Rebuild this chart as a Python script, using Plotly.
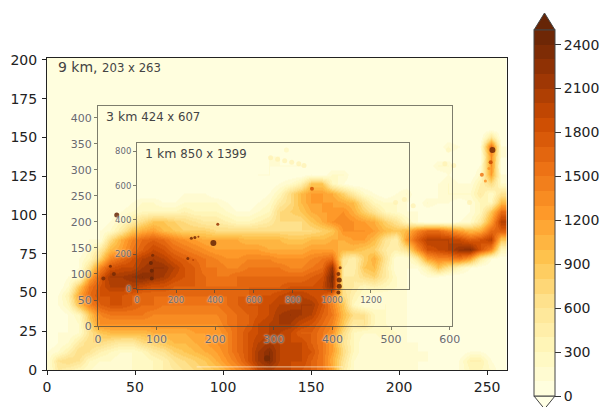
import plotly.graph_objects as go
from plotly.colors import sample_colorscale, get_colorscale

W, H = 604, 407
grid_x = list(range(0, 264, 6))
grid_y = list(range(0, 210, 6))
# terrain height on the 9 km map, in hundreds of metres (rows run upward from y=0)
terrain_hm = [
 [1,5,4,3,2,1,1,1,2,2, 3,4,5,6,7,8,9,11,13,15, 19,20,19,19,18,17,15,12,5,2, 1,1,1,1,1,1,0,0,0,1, 3,3,2,0],
 [1,6,7,6,3,2,2,1,2,2, 3,4,6,7,8,9,11,13,15,18, 21,23,20,19,19,17,15,11,6,2, 1,1,1,1,1,1,1,0,0,1, 4,4,1,0],
 [1,2,4,7,6,4,3,2,2,3, 5,6,8,9,10,11,12,14,16,18, 21,23,20,19,19,18,15,12,7,3, 1,1,1,1,1,1,1,0,0,0, 1,1,0,0],
 [0,1,2,5,7,7,6,5,5,7, 8,9,10,10,11,12,13,14,16,18, 20,21,20,19,19,17,15,12,6,3, 1,1,2,2,1,1,0,0,0,0, 0,0,0,0],
 [0,1,1,2,6,9,10,10,10,10, 11,11,11,11,12,12,12,14,16,18, 19,20,20,19,17,17,15,13,7,3, 2,2,3,2,1,0,0,0,0,0, 0,0,0,0],
 [0,0,1,2,8,13,13,13,13,13, 13,13,13,13,13,13,13,15,16,17, 19,20,21,21,19,18,16,14,9,5, 6,3,2,1,1,0,0,0,0,0, 0,0,0,0],
 [0,0,1,3,9,14,15,15,15,15, 14,14,14,14,14,14,14,15,16,17, 18,19,21,22,21,20,17,15,10,7, 6,3,2,1,1,0,0,0,0,0, 0,0,0,0],
 [0,1,3,10,14,17,18,18,17,16, 16,15,15,15,15,15,15,16,17,18, 18,19,20,20,21,21,18,14,9,3, 1,1,2,1,1,0,0,0,0,0, 0,0,0,0],
 [0,1,4,12,16,18,18,18,17,16, 16,16,16,16,16,16,16,16,17,17, 18,18,19,20,20,19,18,15,7,4, 2,1,1,1,1,0,0,0,0,0, 0,0,0,0],
 [0,0,2,9,15,18,20,20,20,19, 18,18,17,17,17,16,16,16,16,17, 17,17,17,18,18,18,19,23,6,5, 3,4,3,2,1,0,0,0,0,0, 0,0,0,0],
 [0,0,1,2,11,17,21,21,22,23, 22,21,19,18,17,16,15,15,16,16, 16,16,16,16,16,17,18,24,5,5, 7,8,5,2,1,0,1,1,0,0, 0,0,0,0],
 [0,0,0,1,6,14,18,19,19,21, 22,22,20,18,17,15,15,14,14,15, 15,15,15,14,14,15,16,22,5,4, 9,10,5,1,1,1,4,9,6,3, 1,0,0,0],
 [0,0,0,1,3,8,14,16,18,20, 21,20,18,17,16,15,14,13,13,14, 14,14,13,13,13,14,15,16,6,4, 8,11,6,1,1,5,12,14,14,15, 12,5,1,0],
 [0,0,0,0,2,5,10,12,15,17, 19,18,16,15,14,13,12,12,12,12, 12,11,11,11,11,12,12,12,10,10, 9,8,5,4,6,13,18,19,20,22, 23,18,14,3],
 [0,0,0,0,1,1,7,11,14,16, 17,16,14,13,12,11,11,11,11,10, 10,10,10,9,9,10,10,11,11,12, 12,10,6,4,12,17,20,20,20,19, 17,18,20,9],
 [0,0,0,0,0,1,2,5,9,11, 12,10,9,8,8,8,7,7,7,7, 7,7,7,7,7,7,8,9,13,13, 13,12,10,9,10,14,16,16,14,12, 10,11,16,17],
 [0,0,0,0,0,0,1,3,5,7, 9,9,8,7,6,5,5,4,3,3, 4,5,7,7,7,9,11,13,14,13, 12,11,8,6,3,1,0,0,0,1, 2,5,12,20],
 [0,0,0,0,0,0,0,1,2,3, 3,3,3,4,3,3,3,2,1,1, 2,3,7,8,9,11,12,12,13,11, 8,6,3,2,1,1,0,0,0,0, 1,3,9,16],
 [0,0,0,0,0,0,0,0,1,2, 2,1,1,2,2,2,2,1,0,0, 1,2,5,7,10,12,12,12,11,10, 6,3,2,2,1,0,2,1,1,0, 1,3,3,10],
 [0,0,0,0,0,0,0,0,0,0, 0,0,0,1,1,1,0,0,0,0, 0,1,3,7,10,12,12,11,8,5, 2,1,0,1,2,0,0,1,2,2, 2,5,2,6],
 [0,0,0,0,0,0,0,0,0,0, 0,0,0,0,0,0,0,0,0,0, 0,0,1,2,4,9,9,3,1,0, 0,0,0,0,0,0,0,1,2,1, 1,4,7,2],
 [0,0,0,0,0,0,0,0,0,0, 0,0,0,0,0,0,0,0,0,0, 1,1,0,0,0,1,0,2,2,0, 0,0,0,0,0,0,0,0,1,0, 0,2,12,1],
 [0,0,0,0,0,0,0,0,0,0, 0,0,0,0,0,0,0,0,0,0, 0,1,1,1,1,0,0,0,0,0, 0,0,0,0,0,0,0,2,2,0, 0,1,13,0],
 [0,0,0,0,0,0,0,0,0,0, 0,0,0,0,0,0,0,0,0,0, 0,1,1,0,0,0,0,0,0,0, 0,0,0,0,0,0,0,0,0,0, 0,0,13,1],
 [0,0,0,0,0,0,0,0,0,0, 0,0,0,0,0,0,0,0,0,0, 0,0,0,0,0,0,0,0,0,0, 0,0,0,0,0,0,0,0,2,1, 0,1,16,1],
 [0,0,0,0,0,0,0,0,0,0, 0,0,0,0,0,0,0,0,0,0, 0,0,0,0,0,0,0,0,0,0, 0,0,0,0,0,0,0,0,0,0, 0,0,6,0],
] + [[0] * 44 for _ in range(9)]
assert all(len(r) == 44 for r in terrain_hm)
assert len(terrain_hm) == len(grid_y)

# small isolated summits too narrow for the grid above
peak_x = [39.6, 36, 38, 32, 59.5, 59.5, 59, 60, 82, 84, 86, 94.5, 97, 80, 83, 165.5, 166, 166, 165.5, 166.5, 125, 253, 252, 247, 150.5, 249, 251]
peak_y = [100, 67, 62, 59, 59, 64, 69, 74, 85, 85.5, 86, 82, 94, 72, 71, 50, 54, 58, 62, 66, 7.5, 142, 134, 126, 117, 122, 130]
peak_z = [2500, 2400, 2400, 2400, 2500, 2500, 2500, 2400, 2400, 2400, 2200, 2500, 2200, 2400, 2000, 2500, 2500, 2500, 2400, 2400, 2400, 2400, 1900, 1500, 1800, 1300, 1300]
peak_size = [5, 3, 4, 4, 4, 4, 4, 3, 3, 3, 2, 6, 3, 3, 2, 4, 5, 5, 4, 3, 6, 6, 4, 4, 4, 3, 3]

# faint high ground streaks
streak_x = [127, 131, 135, 139, 143, 146, 136, 198, 203, 208, 226, 231, 228, 240]
streak_y = [137, 136, 135, 134, 133, 132, 142, 108, 110, 106, 133, 132, 142, 108]
streak_z = [400, 400, 400, 400, 400, 400, 300, 400, 400, 400, 400, 400, 300, 400]

seam_x = [85, 168]
seam_y = [2, 2]

cbar_ticks = [0, 300, 600, 900, 1200, 1500, 1800, 2100, 2400]
inset3_xticks = [0, 100, 200, 300, 400, 500, 600]
inset3_yticks = [0, 50, 100, 150, 200, 250, 300, 350, 400]
inset1_xticks = [0, 200, 400, 600, 800, 1000, 1200]
inset1_yticks = [0, 200, 400, 600, 800]
main_xticks = [0, 50, 100, 150, 200, 250]
main_yticks = [0, 25, 50, 75, 100, 125, 150, 175, 200]

FONT = "DejaVu Sans"
def dx(a, b): return [a / W, b / W]
def dy(top, bottom): return [1 - bottom / H, 1 - top / H]

z = [[v * 100 for v in r] + [r[-1] * 100] for r in terrain_hm]
x_ext = grid_x + [264]

# stepped YlOrBr with 25 bands of 100 m
N = 25
band_colors = sample_colorscale(get_colorscale("YlOrBr"), [(i + 0.5) / N for i in range(N)])
stepped = []
for i, c in enumerate(band_colors):
    stepped += [[i / N, c], [(i + 1) / N, c]]

fig = go.Figure()
fig.add_trace(go.Heatmap(
    x=x_ext, y=grid_y, z=z, colorscale=stepped, zmin=0, zmax=2500, zauto=False,
    zsmooth="best", hoverinfo="skip",
    colorbar=dict(x=534 / W, xanchor="left", thickness=21, thicknessmode="pixels",
                  y=1 - 396 / H, yanchor="bottom", len=366 / H, lenmode="fraction",
                  xpad=0, ypad=0, outlinecolor="#444", outlinewidth=1,
                  tickmode="array", tickvals=cbar_ticks, ticks="outside", ticklen=6,
                  tickcolor="#333", tickwidth=1, tickprefix="\u2009",
                  tickfont=dict(family=FONT, size=14, color="#222")),
))
fig.add_trace(go.Scatter(x=streak_x, y=streak_y, mode="markers", showlegend=False, hoverinfo="skip",
    marker=dict(size=5, color=streak_z, colorscale="YlOrBr", cmin=0, cmax=2500, opacity=0.7, showscale=False, line_width=0)))
fig.add_trace(go.Scatter(x=peak_x, y=peak_y, mode="markers", showlegend=False, hoverinfo="skip",
    marker=dict(size=peak_size, color=peak_z, colorscale="YlOrBr", cmin=0, cmax=2500, opacity=0.85, showscale=False, line_width=0)))
fig.add_trace(go.Scatter(x=seam_x, y=seam_y, mode="lines", showlegend=False, hoverinfo="skip",
    line=dict(color="rgba(255,245,220,0.7)", width=1)))
fig.add_trace(go.Scatter(x=[], y=[], xaxis="x2", yaxis="y2", showlegend=False))
fig.add_trace(go.Scatter(x=[], y=[], xaxis="x3", yaxis="y3", showlegend=False))

def inset_axis(domain, rng, ticks, anchor, size, color):
    return dict(domain=domain, range=rng, tickmode="array", tickvals=ticks, anchor=anchor,
                showgrid=False, zeroline=False, showline=True, mirror=True,
                linecolor=color, linewidth=1, ticks="outside", ticklen=3, tickcolor=color,
                tickfont=dict(family=FONT, size=size, color="#6a6a6a", shadow="0 0 2px #fff"))

grey = "rgba(70,70,60,0.7)"
fig.update_layout(
    width=W, height=H, autosize=False, margin=dict(l=0, r=0, t=0, b=0, autoexpand=False),
    paper_bgcolor="white", plot_bgcolor="rgba(0,0,0,0)", showlegend=False,
    xaxis=dict(domain=dx(47, 506.5), range=[0, 261], tickmode="array", tickvals=main_xticks,
               showgrid=False, zeroline=False, showline=True, mirror=True, linecolor="#222",
               linewidth=1, ticks="outside", ticklen=4, tickcolor="#222",
               tickfont=dict(family=FONT, size=14, color="#222")),
    yaxis=dict(domain=dy(57.5, 370), range=[0, 201.6], tickmode="array", tickvals=main_yticks,
               showgrid=False, zeroline=False, showline=True, mirror=True, linecolor="#222",
               linewidth=1, ticks="outside", ticklen=4, tickcolor="#222", ticklabelstandoff=2,
               tickfont=dict(family=FONT, size=14, color="#222")),
    xaxis2=inset_axis(dx(98, 452), [0, 604], inset3_xticks, "y2", 11, grey),
    yaxis2=inset_axis(dy(106, 326), [0, 423], inset3_yticks, "x2", 11, grey),
    xaxis3=inset_axis(dx(137, 409), [0, 1395], inset1_xticks, "y3", 8.5, grey),
    yaxis3=inset_axis(dy(142.7, 288.7), [0, 849], inset1_yticks, "x3", 8.5, grey),
    shapes=[
        dict(type="path", xref="paper", yref="paper",
             path=f"M {534/W} {1-30/H} L {544.5/W} {1-13/H} L {555/W} {1-30/H} Z",
             fillcolor="#662506", line=dict(color="#444", width=1)),
        dict(type="path", xref="paper", yref="paper",
             path=f"M {534/W} {1-396/H} L {544.5/W} {1-409/H} L {555/W} {1-396/H} Z",
             fillcolor="#ffffe5", line=dict(color="#444", width=1)),
    ],
)

def label(px, py, big, small):
    fig.add_annotation(xref="paper", yref="paper", x=px / W, y=1 - py / H, xanchor="left",
                       yanchor="middle", showarrow=False,
                       text=f'<span style="font-size:{big}px">{small[0]}</span>'
                            f'<span style="font-size:11.7px">{small[1]}</span>',
                       font=dict(family=FONT, color="#444"))

label(56, 67, 14, ("9 km, ", "203 x 263"))
label(104, 116, 12.5, ("3 km ", "424 x 607"))
label(143, 153, 12.5, ("1 km ", "850 x 1399"))

fig.write_html("out.html", config={"displayModeBar": False},
               post_script="document.body.style.margin='0';")
